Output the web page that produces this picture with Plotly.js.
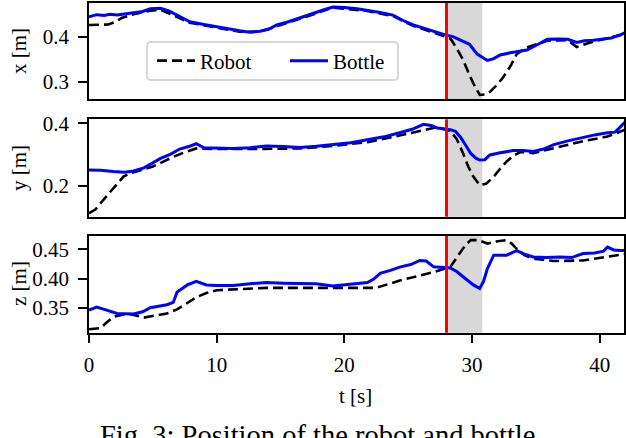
<!DOCTYPE html>
<html>
<head>
<meta charset="utf-8">
<script src="https://cdn.plot.ly/plotly-3.0.1.min.js"></script>
</head>
<body style="margin:0;background:#fff">
<div id="chart" style="width:626px;height:438px"></div>
<script>
// ---- data ----
var tXBottle = [0,0.6,1.2,1.6,2.2,3,3.5,4.2,4.8,5.6,6.3,7.1,7.9,9,10,11,11.8,12.6,13.4,14.1,14.7,15.5,16.5,17.6,18.4,19.1,20,21,21.8,22.8,23.8,24.6,25.4,26.2,27,27.9,28.5,29.1,29.8,30.4,31.2,31.7,32.2,33,34.3,35.1,35.9,36.7,37.5,38.2,38.8,39.5,40.2,40.9,41.6,42];
var xBottle = [0.445,0.450,0.448,0.451,0.449,0.452,0.453,0.457,0.463,0.464,0.458,0.446,0.434,0.428,0.423,0.417,0.414,0.411,0.413,0.418,0.427,0.433,0.443,0.454,0.461,0.467,0.466,0.463,0.460,0.455,0.449,0.437,0.427,0.420,0.412,0.405,0.401,0.394,0.384,0.362,0.348,0.352,0.360,0.365,0.371,0.383,0.395,0.396,0.395,0.388,0.392,0.393,0.396,0.398,0.405,0.410];
var tXRobot = [0,1.5,2,2.6,3.5,4.8,5.6,7.1,7.9,10,11.8,13.4,14.7,16.5,17.6,19.1,21.8,23.8,25.4,27,28.3,28.8,29.3,29.7,30.1,30.6,31.0,31.4,31.9,32.4,33,33.5,34.2,34.8,35.9,37.5,38.2,39.5,41.6,42];
var xRobot = [0.427,0.428,0.433,0.443,0.451,0.459,0.461,0.443,0.432,0.421,0.412,0.412,0.424,0.440,0.451,0.466,0.458,0.447,0.425,0.410,0.397,0.375,0.349,0.322,0.297,0.271,0.272,0.278,0.292,0.309,0.335,0.362,0.376,0.382,0.392,0.393,0.378,0.390,0.403,0.407];

var tYBottle = [0,0.9,1.9,2.8,3.5,4.3,5,5.6,6.4,7.1,7.8,8.4,9,10,11.3,12.6,13.9,15.2,16.5,17.8,19.1,20.5,21.8,23.1,24.4,25.3,26.2,26.8,27.3,28.3,28.7,29.1,29.5,29.9,30.3,30.6,31,31.4,32.2,33.2,34,34.8,35.6,36.4,37.5,38.7,39.7,40.6,41.2,41.6,42];
var yBottle = [0.251,0.250,0.246,0.244,0.248,0.258,0.274,0.288,0.302,0.318,0.326,0.335,0.322,0.321,0.320,0.322,0.328,0.326,0.323,0.327,0.332,0.338,0.348,0.357,0.371,0.381,0.397,0.393,0.385,0.380,0.375,0.356,0.330,0.304,0.289,0.283,0.284,0.299,0.306,0.313,0.313,0.310,0.318,0.332,0.344,0.356,0.364,0.370,0.372,0.388,0.405];
var tYRobot = [0,0.5,0.9,1.4,1.9,2.3,2.7,3.2,3.7,5,6.6,7.5,8.4,10,13,16.5,19.1,21.8,24.4,26.2,27.3,28.3,28.8,29.3,29.7,30.1,30.6,31.1,31.7,32.2,32.7,33.2,33.8,34.8,36.4,38.7,40.6,42];
var yRobot = [0.113,0.125,0.145,0.168,0.193,0.212,0.230,0.240,0.246,0.262,0.293,0.308,0.320,0.318,0.318,0.320,0.328,0.340,0.362,0.378,0.388,0.375,0.350,0.304,0.262,0.230,0.203,0.207,0.230,0.255,0.278,0.295,0.309,0.305,0.320,0.343,0.358,0.380];

var tZBottle = [0,0.6,1.2,2.2,3.5,4.2,4.8,5.5,6.1,6.6,6.9,7.3,7.7,8.4,9.2,10,11.3,12.6,13.9,15.2,16.5,17.8,19.1,20.5,21.8,22.3,22.8,23.6,24.4,25.2,25.9,26.4,27,28.3,28.8,29.3,30.1,30.6,30.9,31.2,31.5,31.7,32.2,32.7,33.1,33.5,34.1,34.8,35.8,36.9,37.8,38.7,39.6,40.3,40.6,41.1,41.6,42];
var zBottle = [0.346,0.351,0.347,0.340,0.339,0.343,0.350,0.352,0.355,0.359,0.377,0.383,0.389,0.395,0.389,0.388,0.388,0.391,0.393,0.392,0.391,0.391,0.387,0.390,0.393,0.399,0.409,0.414,0.420,0.424,0.431,0.430,0.420,0.418,0.412,0.403,0.389,0.383,0.395,0.417,0.432,0.440,0.440,0.440,0.444,0.448,0.442,0.437,0.436,0.437,0.436,0.443,0.444,0.447,0.454,0.449,0.448,0.448];
var tZRobot = [0,0.9,1.4,1.9,3,4.3,6.1,6.9,7.7,8.4,9.2,10,13.9,17.9,19.1,22.5,24.4,27,28.3,28.7,29.1,29.5,29.9,30.5,31.2,32,32.7,33.1,33.5,34.1,34.8,36.4,38.7,41.6,42];
var zRobot = [0.313,0.315,0.325,0.334,0.340,0.333,0.340,0.347,0.358,0.368,0.375,0.380,0.384,0.384,0.383,0.384,0.397,0.411,0.420,0.432,0.446,0.458,0.466,0.466,0.460,0.464,0.466,0.460,0.451,0.440,0.434,0.430,0.431,0.441,0.442];

var eventTime = 28;
var windowEnd = 30.8;
var seriesNames = ["Robot", "Bottle"];
var xTicks = [0,10,20,30,40];

// ---- chart ----
var W = 626, H = 438;
var FONT = "Liberation Serif";
var robotLine = {color:"black", width:2.6, dash:"10px,5px"};
var bottleLine = {color:"#0000ff", width:3};

var traces = [
  {x:tXRobot, y:xRobot, xaxis:"x", yaxis:"y", name:seriesNames[0], mode:"lines", line:robotLine},
  {x:tXBottle, y:xBottle, xaxis:"x", yaxis:"y", name:seriesNames[1], mode:"lines", line:bottleLine},
  {x:tYRobot, y:yRobot, xaxis:"x2", yaxis:"y2", name:seriesNames[0], mode:"lines", line:robotLine, showlegend:false},
  {x:tYBottle, y:yBottle, xaxis:"x2", yaxis:"y2", name:seriesNames[1], mode:"lines", line:bottleLine, showlegend:false},
  {x:tZRobot, y:zRobot, xaxis:"x3", yaxis:"y3", name:seriesNames[0], mode:"lines", line:robotLine, showlegend:false},
  {x:tZBottle, y:zBottle, xaxis:"x3", yaxis:"y3", name:seriesNames[1], mode:"lines", line:bottleLine, showlegend:false}
];

var xdom = [89/W, 624/W];
function xa(anchor, show){
  return {domain:xdom, range:[0,41.9], anchor:anchor, showgrid:false, zeroline:false,
    showline:true, mirror:true, linecolor:"black", linewidth:1.5,
    ticks: show ? "outside" : "", ticklen:9, tickwidth:1.5, tickcolor:"black",
    ticklabelstandoff:3,
    showticklabels:show, tickvals:xTicks, ticktext:xTicks.map(String),
    tickfont:{family:FONT, size:21, color:"black"}};
}
function ya(anchor, dom, range, tv, fmt){
  return {domain:dom, range:range, anchor:anchor, showgrid:false, zeroline:false,
    showline:true, mirror:true, linecolor:"black", linewidth:1.5,
    ticks:"outside", ticklen:9, tickwidth:1.5, tickcolor:"black",
    ticklabelstandoff:5,
    tickvals:tv, tickformat:fmt,
    tickfont:{family:FONT, size:21, color:"black"}};
}

var shapes = [];
["y","y2","y3"].forEach(function(yr, i){
  var xr = ["x","x2","x3"][i];
  shapes.push({type:"rect", xref:xr, yref:yr+" domain", x0:eventTime, x1:windowEnd, y0:0, y1:1,
    fillcolor:"#d8d8d8", line:{width:0}, layer:"below"});
  shapes.push({type:"line", xref:xr, yref:yr+" domain", x0:eventTime, x1:eventTime, y0:0, y1:1,
    line:{color:"#ff0000", width:3}, layer:"above"});
});
// legend frame (rounded, light grey) in paper coordinates
(function(){
  var L=147, R=398, T=42, B=80, r=4;
  function px(v){return (v/W).toFixed(5);} function py(v){return (1-v/H).toFixed(5);}
  var p = "M"+px(L+r)+","+py(T)+" L"+px(R-r)+","+py(T)+" Q"+px(R)+","+py(T)+" "+px(R)+","+py(T+r)+
          " L"+px(R)+","+py(B-r)+" Q"+px(R)+","+py(B)+" "+px(R-r)+","+py(B)+
          " L"+px(L+r)+","+py(B)+" Q"+px(L)+","+py(B)+" "+px(L)+","+py(B-r)+
          " L"+px(L)+","+py(T+r)+" Q"+px(L)+","+py(T)+" "+px(L+r)+","+py(T)+" Z";
  shapes.push({type:"path", xref:"paper", yref:"paper", path:p, fillcolor:"rgba(255,255,255,0.85)",
    line:{color:"#d6d6d6", width:1.8}, layer:"above"});
})();

var annFont = {family:FONT, size:21, color:"black"};
var layout = {
  width:W, height:H,
  margin:{l:0, r:0, t:0, b:0},
  paper_bgcolor:"white", plot_bgcolor:"white",
  font:{family:FONT, size:21, color:"black"},
  showlegend:true,
  legend:{orientation:"h", x:152/W, y:1-61/H, xanchor:"left", yanchor:"middle",
    bgcolor:"rgba(0,0,0,0)", borderwidth:0, itemwidth:38,
    font:{family:FONT, size:21, color:"black"}, entrywidth:80},
  xaxis: xa("y", false),
  xaxis2: xa("y2", false),
  xaxis3: xa("y3", true),
  yaxis: ya("x", [1-99/H, 1-3/H], [0.262, 0.476], [0.3,0.4], ".1f"),
  yaxis2: ya("x2", [1-216.7/H, 1-119.3/H], [0.102, 0.413], [0.2,0.4], ".1f"),
  yaxis3: ya("x3", [1-332.7/H, 1-236/H], [0.307, 0.473], [0.35,0.40,0.45], ".2f"),
  shapes: shapes,
  annotations:[
    {text:"x [m]", xref:"paper", yref:"paper", x:19/W, y:1-51/H, textangle:-90, showarrow:false, font:annFont, xanchor:"center", yanchor:"middle"},
    {text:"y [m]", xref:"paper", yref:"paper", x:19/W, y:1-168/H, textangle:-90, showarrow:false, font:annFont, xanchor:"center", yanchor:"middle"},
    {text:"z [m]", xref:"paper", yref:"paper", x:19/W, y:1-284/H, textangle:-90, showarrow:false, font:annFont, xanchor:"center", yanchor:"middle"},
    {text:"t [s]", xref:"paper", yref:"paper", x:355/W, y:1-396/H, showarrow:false, font:annFont, xanchor:"center", yanchor:"middle"},
    {text:"Fig. 3: Position of the robot and bottle.", xref:"paper", yref:"paper", x:321.5/W, y:1-435/H, showarrow:false,
      font:{family:FONT, size:28.5, color:"black"}, xanchor:"center", yanchor:"middle"}
  ]
};

Plotly.newPlot("chart", traces, layout, {displayModeBar:false});
</script>
</body>
</html>
